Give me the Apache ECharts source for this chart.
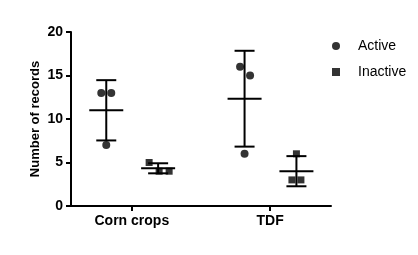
<!DOCTYPE html>
<html>
<head>
<meta charset="utf-8">
<script src="https://cdn.jsdelivr.net/npm/echarts@6/dist/echarts.min.js"></script>
<style>html,body{margin:0;padding:0;background:#fff}#c{width:418px;height:255px}</style>
</head>
<body>
<div id="c"></div>
<script>
// ---- data ----
const categories = ['Corn crops', 'TDF'];
const seriesNames = ['Active', 'Inactive'];
const activeValues = [[13, 13, 7], [16, 15, 6]];
const inactiveValues = [[5, 4, 4], [6, 3, 3]];
const yTicks = [0, 5, 10, 15, 20];

// ---- styling / layout ----
const FONT = 'Liberation Sans, Arial, Helvetica, sans-serif';
const groupShift = { Active: -0.185, Inactive: 0.19 };
// pixel jitter used only to keep overlapping points visible
const jitterPx = {
  Active: [[-5, 5, 0], [-4.5, 5.5, 0]],
  Inactive: [[-9, 1, 11], [0, -4.5, 4.5]]
};

function stats(arr) {
  const n = arr.length;
  const m = arr.reduce((a, b) => a + b, 0) / n;
  const sd = Math.sqrt(arr.reduce((a, b) => a + (b - m) * (b - m), 0) / (n - 1));
  return [m, m - sd, m + sd];
}

function scatterData(name, groups) {
  const out = [];
  groups.forEach((vals, ci) => {
    vals.forEach((v, k) => {
      out.push({ value: [ci + groupShift[name], v], symbolOffset: [jitterPx[name][ci][k], 0] });
    });
  });
  return out;
}

function errData(name, groups) {
  return groups.map((vals, ci) => {
    const s = stats(vals);
    return [ci + groupShift[name], s[0], s[1], s[2]];
  });
}

function renderErr(params, api) {
  const x = api.value(0);
  const pm = api.coord([x, api.value(1)]);
  const plo = api.coord([x, api.value(2)]);
  const phi = api.coord([x, api.value(3)]);
  const st = { stroke: '#000', lineWidth: 2 };
  const meanHalf = 17, capHalf = 10;
  return {
    type: 'group',
    children: [
      { type: 'line', shape: { x1: pm[0] - meanHalf, y1: pm[1], x2: pm[0] + meanHalf, y2: pm[1] }, style: st },
      { type: 'line', shape: { x1: plo[0], y1: plo[1], x2: phi[0], y2: phi[1] }, style: st },
      { type: 'line', shape: { x1: phi[0] - capHalf, y1: phi[1], x2: phi[0] + capHalf, y2: phi[1] }, style: st },
      { type: 'line', shape: { x1: plo[0] - capHalf, y1: plo[1], x2: plo[0] + capHalf, y2: plo[1] }, style: st }
    ]
  };
}

const chart = echarts.init(document.getElementById('c'), null, { renderer: 'canvas' });
chart.setOption({
  animation: false,
  backgroundColor: '#fff',
  textStyle: { fontFamily: FONT },
  grid: { left: 71, right: 87, top: 32, bottom: 49, containLabel: false },
  legend: {
    data: seriesNames,
    orient: 'vertical',
    left: 332,
    top: 39,
    itemWidth: 8,
    itemHeight: 8,
    itemGap: 12,
    padding: 0,
    textStyle: { fontFamily: FONT, fontSize: 14, color: '#000', lineHeight: 14, padding: [0, 0, 0, 13] }
  },
  xAxis: {
    type: 'value',
    min: -0.44,
    max: 1.44,
    splitLine: { show: false },
    axisLine: { show: true, onZero: false, lineStyle: { color: '#000', width: 2 } },
    axisTick: { show: true, customValues: categories.map((c, i) => i), length: 5, lineStyle: { color: '#000', width: 2 } },
    axisLabel: {
      customValues: categories.map((c, i) => i),
      formatter: v => categories[Math.round(v)] || '',
      fontFamily: FONT, fontSize: 14, fontWeight: 'bold', color: '#000', margin: 8
    }
  },
  yAxis: {
    type: 'value',
    min: yTicks[0],
    max: yTicks[yTicks.length - 1],
    interval: yTicks[1] - yTicks[0],
    name: 'Number of records',
    nameLocation: 'middle',
    nameRotate: 90,
    nameGap: 29,
    nameMoveOverlap: false,
    nameTextStyle: { fontFamily: FONT, fontSize: 13, fontWeight: 'bold', color: '#000' },
    splitLine: { show: false },
    axisLine: { show: true, onZero: false, lineStyle: { color: '#000', width: 2 } },
    axisTick: { show: true, length: 5, lineStyle: { color: '#000', width: 2 } },
    axisLabel: { fontFamily: FONT, fontSize: 14, fontWeight: 'bold', color: '#000', margin: 8 }
  },
  series: [
    {
      name: 'Active', type: 'scatter', symbol: 'circle', symbolSize: 8,
      itemStyle: { color: '#000' }, data: scatterData('Active', activeValues), z: 3
    },
    {
      name: 'Inactive', type: 'scatter', symbol: 'rect', symbolSize: 7,
      itemStyle: { color: '#000' }, data: scatterData('Inactive', inactiveValues), z: 3
    },
    { type: 'custom', renderItem: renderErr, data: errData('Active', activeValues), z: 2, encode: { x: 0, y: [1, 2, 3] } },
    { type: 'custom', renderItem: renderErr, data: errData('Inactive', inactiveValues), z: 2, encode: { x: 0, y: [1, 2, 3] } }
  ]
});
</script>
</body>
</html>
